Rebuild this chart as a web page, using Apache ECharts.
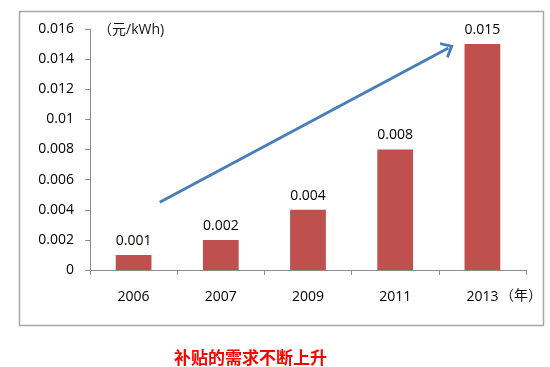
<!DOCTYPE html>
<html><head><meta charset="utf-8">
<script src="https://cdn.jsdelivr.net/npm/echarts@6/dist/echarts.min.js"></script>
<style>html,body{margin:0;padding:0;background:#fff}#c{width:550px;height:367px}</style>
</head><body><div id="c"></div>
<script>
const categories = ['2006', '2007', '2009', '2011', '2013'];
const subsidy = [0.001, 0.002, 0.004, 0.008, 0.015];
const yTickLabels = ['0', '0.002', '0.004', '0.006', '0.008', '0.01', '0.012', '0.014', '0.016'];
const trendArrow = [[0.8, 0.0045], [4.11, 0.01474]];
const unitText = '（元/kWh)';
const yearText = '（年）';
const captionText = '补贴的需求不断上升';

const FONT = '"Open Sans","Noto Sans CJK SC",sans-serif';
const chart = echarts.init(document.getElementById('c'), null, {renderer: 'canvas'});
chart.setOption({
  animation: false,
  grid: {left: 90, right: 24, top: 29, bottom: 97},
  xAxis: [{
    type: 'category', data: categories,
    axisLine: {lineStyle: {color: '#8c8c8c', width: 1}},
    axisTick: {show: true, length: 5, lineStyle: {color: '#8c8c8c'}},
    axisLabel: {color: '#000', fontSize: 14, fontFamily: FONT, margin: 20}
  }, {
    type: 'value', min: 0, max: 5, show: false
  }],
  yAxis: {
    type: 'value', min: 0, max: 0.016, interval: 0.002,
    axisLine: {show: true, lineStyle: {color: '#8c8c8c', width: 1}},
    axisTick: {show: true, length: 5, lineStyle: {color: '#8c8c8c'}},
    splitLine: {show: false},
    axisLabel: {color: '#000', fontSize: 14, fontFamily: FONT, margin: 16,
      formatter: (v) => yTickLabels[Math.round(v / 0.002)]}
  },
  series: [{
    type: 'bar', data: subsidy, barWidth: '41%',
    itemStyle: {color: '#c0504d'},
    label: {show: true, position: 'top', distance: 7, color: '#000', fontSize: 14, fontFamily: FONT,
      formatter: (p) => String(p.value)}
  }, {
    type: 'line', xAxisIndex: 1, data: [], silent: true,
    markLine: {
      silent: true, animation: false,
      symbol: ['none', 'path://M0,10 L5,0 L10,10 L8.6,11.2 L5,4.2 L1.4,11.2 Z'],
      symbolSize: [18, 12],
      label: {show: false},
      lineStyle: {color: '#4a7ebb', width: 3, type: 'solid'},
      data: [[{coord: trendArrow[0]}, {coord: trendArrow[1]}]]
    }
  }],
  graphic: [
    {type: 'rect', shape: {x: 19.5, y: 11.5, width: 524, height: 314},
     style: {fill: 'none', stroke: '#a6a6a6', lineWidth: 1.5}, silent: true},
    {type: 'text', left: 98, top: 23,
     style: {text: unitText, fill: '#111', font: '14px ' + FONT}},
    {type: 'text', left: 500, top: 289,
     style: {text: yearText, fill: '#111', font: '14px ' + FONT}},
    {type: 'text', left: 174, top: 349,
     style: {text: captionText, fill: '#ff0000', font: 'bold 17px "Noto Sans CJK SC",sans-serif'}}
  ]
});
</script></body></html>
